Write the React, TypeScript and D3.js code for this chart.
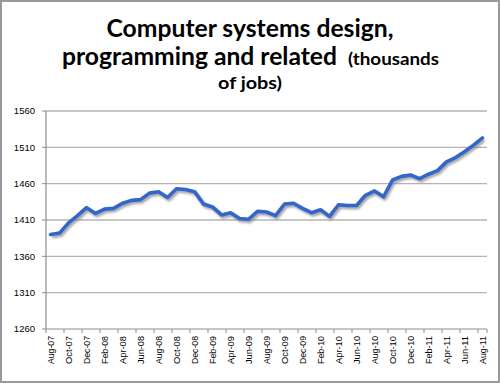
import React from "react";
import * as d3 from "d3";

const months = [
  "Aug-07","Sep-07","Oct-07","Nov-07","Dec-07","Jan-08","Feb-08","Mar-08","Apr-08","May-08","Jun-08","Jul-08",
  "Aug-08","Sep-08","Oct-08","Nov-08","Dec-08","Jan-09","Feb-09","Mar-09","Apr-09","May-09","Jun-09","Jul-09",
  "Aug-09","Sep-09","Oct-09","Nov-09","Dec-09","Jan-10","Feb-10","Mar-10","Apr-10","May-10","Jun-10","Jul-10",
  "Aug-10","Sep-10","Oct-10","Nov-10","Dec-10","Jan-11","Feb-11","Mar-11","Apr-11","May-11","Jun-11","Jul-11",
  "Aug-11",
];

const jobs = [
  1390, 1392, 1406, 1416, 1427, 1419, 1425, 1426, 1433, 1437, 1438, 1447,
  1449, 1441, 1453, 1452, 1449, 1432, 1428, 1417, 1420, 1412, 1411, 1422,
  1421, 1416, 1432, 1433, 1426, 1420, 1424, 1415, 1431, 1430, 1430, 1444,
  1450, 1442, 1465, 1470, 1472, 1467, 1473, 1478, 1490, 1496, 1504, 1513,
  1523,
];

const yTicks = [1260, 1310, 1360, 1410, 1460, 1510, 1560];

const W = 500;
const H = 384;
const plot = { left: 46, right: 487, top: 111, bottom: 329 };

export default function App() {
  const x = d3
    .scaleBand<string>()
    .domain(months)
    .range([plot.left, plot.right])
    .paddingInner(0)
    .paddingOuter(0);
  const y = d3.scaleLinear().domain([1260, 1560]).range([plot.bottom, plot.top]);

  const cx = (m: string) => (x(m) as number) + x.bandwidth() / 2;
  const line = d3
    .line<number>()
    .x((_, i) => cx(months[i]))
    .y((d) => y(d));
  const path = line(jobs) || "";

  const tickBoundaries = months
    .map((m, i) => ({ m, i }))
    .filter((d) => d.i % 2 === 0)
    .map((d) => x(d.m) as number)
    .concat([plot.right]);

  const labelMonths = months.filter((_, i) => i % 2 === 0);

  return (
    <svg
      width={W}
      height={H}
      style={{ position: "absolute", left: 0, top: 0, background: "#fff" }}
    >
      <defs>
        <filter id="blur" x="-5%" y="-5%" width="110%" height="110%">
          <feGaussianBlur stdDeviation="0.8" />
        </filter>
      </defs>
      <rect x={1} y={1} width={W - 2} height={H - 3} fill="#fff" stroke="#9a9a9a" strokeWidth={2} />

      {/* title */}
      <g fontFamily="Lato, 'Open Sans', sans-serif" fontWeight="bold" fill="#000">
        <text x={250} y={37} fontSize={24.5} textAnchor="middle" textLength={287} lengthAdjust="spacingAndGlyphs">
          Computer systems design,
        </text>
        <text x={62} y={65} fontSize={24.5} textLength={275} lengthAdjust="spacingAndGlyphs">
          programming and related
        </text>
        <text x={348} y={65} fontSize={17.5} textLength={91} lengthAdjust="spacingAndGlyphs">
          (thousands
        </text>
        <text x={250} y={89} fontSize={17.5} textAnchor="middle" textLength={64} lengthAdjust="spacingAndGlyphs">
          of jobs)
        </text>
      </g>

      {/* gridlines */}
      {yTicks.map((t) => (
        <g key={t}>
          {t !== 1260 && (
            <line x1={plot.left} x2={plot.right} y1={y(t)} y2={y(t)} stroke="#b3b3b3" strokeWidth={1.3} />
          )}
          <line x1={plot.left - 4} x2={plot.left} y1={y(t)} y2={y(t)} stroke="#8c8c8c" strokeWidth={1} />
          <text
            x={35}
            y={y(t)}
            dy="0.35em"
            textAnchor="end"
            fontSize={9.5}
            fontFamily="'Liberation Sans', Arial, sans-serif"
            fill="#000"
          >
            {t}
          </text>
        </g>
      ))}

      {/* axes */}
      <line x1={plot.left} x2={plot.left} y1={plot.top} y2={plot.bottom} stroke="#8c8c8c" strokeWidth={1.2} />
      <line x1={plot.left} x2={plot.right} y1={plot.bottom} y2={plot.bottom} stroke="#8c8c8c" strokeWidth={1.2} />
      {tickBoundaries.map((tx, i) => (
        <line key={i} x1={tx} x2={tx} y1={plot.bottom} y2={plot.bottom + 4} stroke="#8c8c8c" strokeWidth={1} />
      ))}
      {labelMonths.map((m) => (
        <text
          key={m}
          transform={`translate(${cx(m) + 3.2},${plot.bottom + 7}) rotate(-90)`}
          textAnchor="end"
          fontSize={9}
          fontFamily="'Liberation Sans', Arial, sans-serif"
          fill="#000"
          textLength={28}
          lengthAdjust="spacingAndGlyphs"
        >
          {m}
        </text>
      ))}

      {/* series with shadow */}
      <path
        d={path}
        transform="translate(1.5,2)"
        fill="none"
        stroke="#8a8a8a"
        strokeOpacity={0.75}
        strokeWidth={4}
        strokeLinejoin="round"
        filter="url(#blur)"
      />
      <path d={path} fill="none" stroke="#3366cc" strokeWidth={3.6} strokeLinejoin="round" strokeLinecap="round" />
    </svg>
  );
}
